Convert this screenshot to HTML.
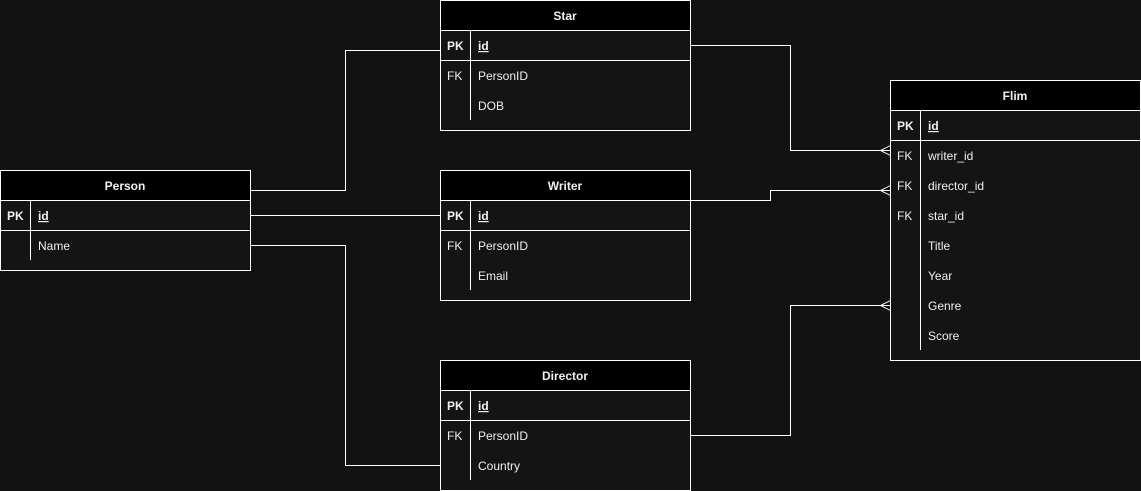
<!DOCTYPE html>
<html><head><style>
html,body{margin:0;padding:0;background:#121212;}
svg{display:block;font-family:"Liberation Sans",Arial,sans-serif;font-size:12px;}
</style></head><body>
<svg width="1141" height="491" viewBox="0 0 1141 491" xmlns="http://www.w3.org/2000/svg">
<rect width="1141" height="491" fill="#121212"/>
<g fill="none" stroke="#fff" stroke-width="1">
<path d="M250.5 190.5H345.5V50.5H440.5"/>
<path d="M250.5 215.5H440.5"/>
<path d="M250.5 245.5H345.5V465.5H440.5"/>
<path d="M690.5 45.5H790.5V150.5H890.5"/>
<path d="M690.5 200.5H770.5V190.5H890.5"/>
<path d="M690.5 435.5H790.5V305.5H890.5"/>
<path d="M890.5 145.5L880.5 150.5L890.5 155.5"/>
<path d="M890.5 185.5L880.5 190.5L890.5 195.5"/>
<path d="M890.5 300.5L880.5 305.5L890.5 310.5"/>
</g>
<!-- tables -->
<g id="t">
</g>
<g stroke="#fff" stroke-width="1">
<!-- Star -->
<rect x="440.5" y="0.5" width="250" height="130" fill="#141414"/>
<rect x="440.5" y="0.5" width="250" height="30" fill="#000"/>
<line x1="440" y1="60.5" x2="690" y2="60.5"/>
<line x1="470.5" y1="30" x2="470.5" y2="120"/>
<!-- Person -->
<rect x="0.5" y="170.5" width="250" height="100" fill="#141414"/>
<rect x="0.5" y="170.5" width="250" height="30" fill="#000"/>
<line x1="0" y1="230.5" x2="250" y2="230.5"/>
<line x1="30.5" y1="200" x2="30.5" y2="260"/>
<!-- Writer -->
<rect x="440.5" y="170.5" width="250" height="130" fill="#141414"/>
<rect x="440.5" y="170.5" width="250" height="30" fill="#000"/>
<line x1="440" y1="230.5" x2="690" y2="230.5"/>
<line x1="470.5" y1="200" x2="470.5" y2="290"/>
<!-- Director -->
<rect x="440.5" y="360.5" width="250" height="130" fill="#141414"/>
<rect x="440.5" y="360.5" width="250" height="30" fill="#000"/>
<line x1="440" y1="420.5" x2="690" y2="420.5"/>
<line x1="470.5" y1="390" x2="470.5" y2="480"/>
<!-- Flim -->
<rect x="890.5" y="80.5" width="250" height="280" fill="#141414"/>
<rect x="890.5" y="80.5" width="250" height="30" fill="#000"/>
<line x1="890" y1="140.5" x2="1140" y2="140.5"/>
<line x1="920.5" y1="110" x2="920.5" y2="350"/>
</g>
<g fill="#f0f0f0">
<g font-weight="bold" text-anchor="middle">
<text x="565" y="20">Star</text>
<text x="125" y="190">Person</text>
<text x="565" y="190">Writer</text>
<text x="565" y="380">Director</text>
<text x="1015" y="100">Flim</text>
</g>
<g font-weight="bold">
<text x="447" y="50">PK</text>
<text x="7" y="220">PK</text>
<text x="447" y="220">PK</text>
<text x="447" y="410">PK</text>
<text x="897" y="130">PK</text>
<text x="478" y="50" text-decoration="underline">id</text>
<text x="38" y="220" text-decoration="underline">id</text>
<text x="478" y="220" text-decoration="underline">id</text>
<text x="478" y="410" text-decoration="underline">id</text>
<text x="928" y="130" text-decoration="underline">id</text>
</g>
<text x="447" y="80">FK</text><text x="478" y="80">PersonID</text>
<text x="478" y="110">DOB</text>
<text x="38" y="250">Name</text>
<text x="447" y="250">FK</text><text x="478" y="250">PersonID</text>
<text x="478" y="280">Email</text>
<text x="447" y="440">FK</text><text x="478" y="440">PersonID</text>
<text x="478" y="470">Country</text>
<text x="897" y="160">FK</text><text x="928" y="160">writer_id</text>
<text x="897" y="190">FK</text><text x="928" y="190">director_id</text>
<text x="897" y="220">FK</text><text x="928" y="220">star_id</text>
<text x="928" y="250">Title</text>
<text x="928" y="280">Year</text>
<text x="928" y="310">Genre</text>
<text x="928" y="340">Score</text>
</g>
</svg>
</body></html>
